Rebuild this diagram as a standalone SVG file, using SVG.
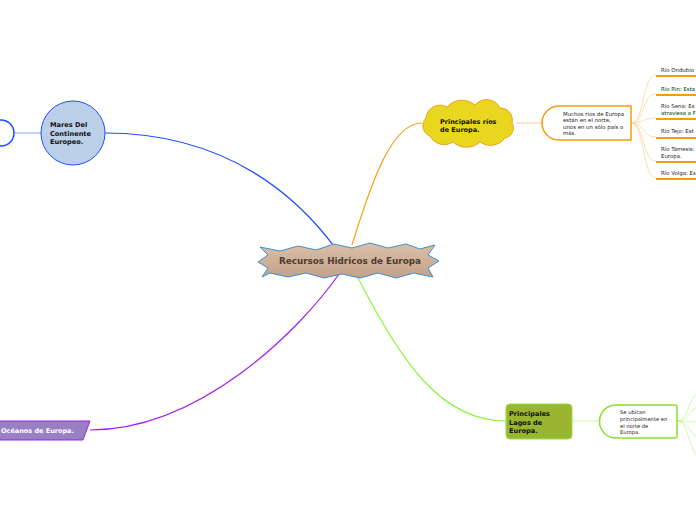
<svg xmlns="http://www.w3.org/2000/svg" width="696" height="520" viewBox="0 0 696 520">
<defs>
<linearGradient id="tan" x1="0" y1="0" x2="0" y2="1">
<stop offset="0" stop-color="#dcc0aa"/><stop offset="1" stop-color="#c3a189"/>
</linearGradient>
<style>
text{font-family:"DejaVu Sans","Liberation Sans",sans-serif;}
.b{font-weight:bold;}
.conn{fill:none;stroke-width:1.2;}
.sub{fill:none;stroke-width:0.8;}
</style>
</defs>
<rect width="696" height="520" fill="#ffffff"/>
<g id="connectors">
<path class="conn" stroke="#1a4fff" d="M336,249 C300,200 230,133 105,133"/>
<path class="sub" stroke="#6f8ff5" d="M14,133 H41"/>
<path class="conn" stroke="#f5a31a" d="M352,245 C372,180 392,123 422,123"/>
<path class="sub" stroke="#f7c474" d="M516,123 H543"/>
<path class="conn" stroke="#8ef53a" d="M357,276 C400,360 440,421 506,421"/>
<path class="sub" stroke="#c5f59a" d="M572,421 H600"/>
<path class="conn" stroke="#a21cf0" d="M339,274 C300,330 200,430 90,430"/>
<g class="sub" stroke="#fcd49a">
<path d="M631,123 C645,123 642,75 656,75"/>
<path d="M631,123 C645,123 642,94 656,94"/>
<path d="M631,123 C645,123 642,118 656,118"/>
<path d="M631,123 C645,123 642,137 656,137"/>
<path d="M631,123 C645,123 642,161 656,161"/>
<path d="M631,123 C645,123 642,178 656,178"/>
</g>
<g class="sub" stroke="#c5f59a">
<path d="M677,421 C688,421 688,400 698,392"/>
<path d="M677,421 C688,421 690,410 698,406"/>
<path d="M677,421 C688,421 690,422 698,422"/>
<path d="M677,421 C688,421 690,434 698,438"/>
<path d="M677,421 C688,421 688,445 698,458"/>
</g>
</g>
<g id="center">
<path d="M260,247 L280,251 L298,246 L316,250 L334,244 L352,248 L370,243 L388,248 L406,244 L420,249 L435,245 L428,255 L439,261 L428,268 L433,277 L414,273 L396,278 L378,273 L360,278 L342,274 L324,278 L306,273 L288,277 L270,273 L262,277 L268,268 L258,262 L268,255 Z" fill="url(#tan)" stroke="#3d8fd0" stroke-width="1"/>
<text class="b" x="350" y="264" font-size="8.8" fill="#4a3c30" text-anchor="middle">Recursos Hidricos de Europa</text>
</g>
<g id="left-node">
<path d="M-20,120 H1 A13,13 0 0 1 1,146 H-20 Z" fill="#ffffff" stroke="#1a4fff" stroke-width="1.5"/>
</g>
<g id="mares">
<circle cx="73" cy="133" r="32" fill="#bccfe8" stroke="#1a4fff" stroke-width="1"/>
<text class="b" font-size="6.6" fill="#111"><tspan x="50" y="127">Mares Del</tspan><tspan x="50" y="135.5">Continente</tspan><tspan x="50" y="144">Europeo.</tspan></text>
</g>
<g id="rios">
<path d="M430,136 A11,11 0 0 1 426,118 A14,14 0 0 1 447,107 A20,20 0 0 1 475,105 A15,15 0 0 1 500,108 A12,12 0 0 1 512,123 A10,10 0 0 1 505,138 A18,18 0 0 1 480,142 A20,20 0 0 1 453,142 A16,16 0 0 1 430,136 Z" fill="#e8d71e" stroke="#f0a020" stroke-width="1"/>
<text class="b" font-size="6.5" fill="#111"><tspan x="440" y="124">Principales ríos</tspan><tspan x="440" y="132">de Europa.</tspan></text>
</g>
<g id="muchos">
<path d="M559,106 H631 V140 H559 A17,17 0 0 1 559,106 Z" fill="#ffffff" stroke="#f39c12" stroke-width="1.5"/>
<text font-size="5.4" fill="#222"><tspan x="563" y="116">Muchos ríos de Europa</tspan><tspan x="563" y="122">están en el norte,</tspan><tspan x="563" y="129">unos en un sólo país o</tspan><tspan x="563" y="135">más.</tspan></text>
</g>
<g id="items" font-size="5.4" fill="#222">
<text x="661" y="72">Río Ondubio</text>
<text x="661" y="91">Río Rin: Esta</text>
<text x="661" y="108">Río Sena: Es</text>
<text x="661" y="115">atraviesa a F</text>
<text x="661" y="133">Río Tejo: Est</text>
<text x="661" y="151">Río Támesis:</text>
<text x="661" y="158">Europa.</text>
<text x="661" y="175">Río Volga: Es</text>
<g stroke="#f39c12" stroke-width="1.8">
<path d="M656,76 H696"/><path d="M656,95 H696"/><path d="M656,119 H696"/><path d="M656,138 H696"/><path d="M656,162 H696"/><path d="M656,179 H696"/>
</g>
</g>
<g id="lagos">
<rect x="506" y="404" width="66" height="35" rx="4" fill="#9ab52f" stroke="#8ee53a" stroke-width="1"/>
<text class="b" font-size="6.6" fill="#111"><tspan x="509" y="416">Principales</tspan><tspan x="509" y="424.5">Lagos de</tspan><tspan x="509" y="433">Europa.</tspan></text>
</g>
<g id="ubican">
<path d="M616,405 H675 Q677,405 677,407 V436 Q677,438 675,438 H616 A16.5,16.5 0 0 1 616,405 Z" fill="#ffffff" stroke="#88e030" stroke-width="1.5"/>
<text font-size="5.2" fill="#222"><tspan x="620" y="414">Se ubican</tspan><tspan x="620" y="421">principalmente en</tspan><tspan x="620" y="427.5">el norte de</tspan><tspan x="620" y="434">Europa.</tspan></text>
</g>
<g id="oceanos">
<path d="M-5,421 H90 L83,440 H-5 Z" fill="#9b7fc4" stroke="#8b2be2" stroke-width="1"/>
<text class="b" x="1" y="433" font-size="6.5" fill="#ffffff">Océanos de Europa.</text>
</g>
</svg>
